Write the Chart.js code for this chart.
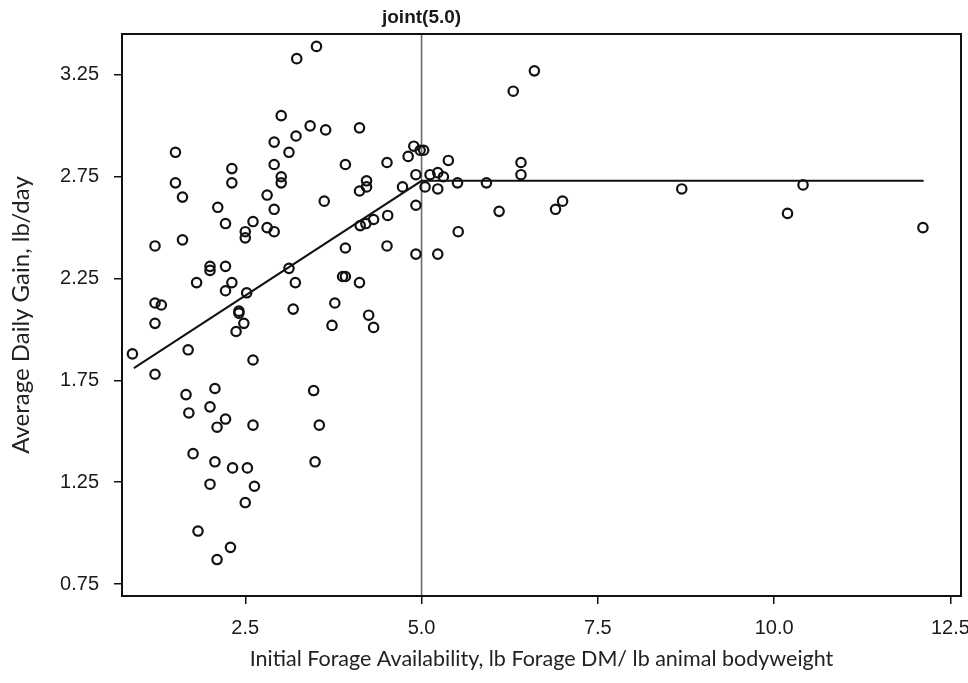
<!DOCTYPE html>
<html><head><meta charset="utf-8">
<script src="https://cdn.jsdelivr.net/npm/chart.js@4.4.0/dist/chart.umd.min.js"></script>
<style>html,body{margin:0;padding:0;background:#fff;} #wrap{width:968px;height:683px;}</style>
</head><body><div id="wrap"><canvas id="c" width="968" height="683"></canvas></div>
<script>
const FORAGE = [3.23,3.51,1.51,3.01,3.42,3.64,3.22,4.12,2.91,3.12,1.51,2.31,2.31,2.91,3.01,3.01,3.92,4.51,4.89,4.98,5.03,4.81,5.38,4.92,5.12,5.23,5.31,5.05,5.23,5.51,4.22,4.22,4.12,4.73,1.61,2.81,3.62,2.11,2.91,4.92,5.52,4.52,4.32,4.21,4.13,2.22,2.61,2.81,2.91,2.50,2.50,1.61,1.22,4.51,3.92,4.92,5.23,2.00,2.00,2.22,3.12,3.88,3.92,1.81,2.31,3.21,4.12,2.22,2.52,1.22,1.31,3.77,2.41,2.41,3.18,4.25,1.22,2.48,3.73,4.32,2.37,0.90,1.69,2.61,1.22,1.66,2.07,3.47,1.70,2.00,2.22,2.10,2.61,3.55,1.76,2.07,2.32,2.53,3.49,2.00,2.63,2.50,1.83,2.29,2.10,6.60,6.30,5.92,6.41,6.41,8.69,6.10,7.00,6.90,10.41,10.19,12.11];
const ADG = [3.33,3.39,2.87,3.05,3.00,2.98,2.95,2.99,2.92,2.87,2.72,2.79,2.72,2.81,2.75,2.72,2.81,2.82,2.90,2.88,2.88,2.85,2.83,2.76,2.76,2.77,2.75,2.70,2.69,2.72,2.73,2.70,2.68,2.70,2.65,2.66,2.63,2.60,2.59,2.61,2.48,2.56,2.54,2.52,2.51,2.52,2.53,2.50,2.48,2.48,2.45,2.44,2.41,2.41,2.40,2.37,2.37,2.31,2.29,2.31,2.30,2.26,2.26,2.23,2.23,2.23,2.23,2.19,2.18,2.13,2.12,2.13,2.09,2.08,2.10,2.07,2.03,2.03,2.02,2.01,1.99,1.88,1.90,1.85,1.78,1.68,1.71,1.70,1.59,1.62,1.56,1.52,1.53,1.53,1.39,1.35,1.32,1.32,1.35,1.24,1.23,1.15,1.01,0.93,0.87,3.27,3.17,2.72,2.82,2.76,2.69,2.58,2.63,2.59,2.71,2.57,2.50];
const FIT_X = [0.92, 5.0, 12.12];
const FIT_Y = [1.81, 2.73, 2.73];
const JOINT_X = 5.0;
const JOINT_LABEL = 'joint(5.0)';
const X_TICKS = [2.5, 5.0, 7.5, 10.0, 12.5];
const X_TICK_LABELS = ['2.5', '5.0', '7.5', '10.0', '12.5'];
const Y_TICKS = [0.75, 1.25, 1.75, 2.25, 2.75, 3.25];
const Y_TICK_LABELS = ['0.75', '1.25', '1.75', '2.25', '2.75', '3.25'];
const X_TITLE = 'Initial Forage Availability, lb Forage DM/ lb animal bodyweight';
const Y_TITLE = 'Average Daily Gain, lb/day';

const points = FORAGE.map((x, i) => ({x: x, y: ADG[i]}));
const fit = FIT_X.map((x, i) => ({x: x, y: FIT_Y[i]}));

const framePlugin = {
  id: 'frame',
  beforeDatasetsDraw(chart) {
    const {ctx, chartArea: a, scales: {x}} = chart;
    const px = x.getPixelForValue(JOINT_X);
    ctx.save();
    ctx.strokeStyle = '#6a6a6a';
    ctx.lineWidth = 1.6;
    ctx.beginPath();
    ctx.moveTo(px, a.top);
    ctx.lineTo(px, a.bottom);
    ctx.stroke();
    ctx.fillStyle = '#1a1a1a';
    ctx.font = 'bold 19px "Liberation Sans Narrow", "Liberation Sans", Arial, sans-serif';
    ctx.textAlign = 'center';
    ctx.textBaseline = 'alphabetic';
    ctx.fillText(JOINT_LABEL, px, 23);
    ctx.restore();
  },
  afterDraw(chart) {
    const {ctx, chartArea: a} = chart;
    ctx.save();
    ctx.strokeStyle = '#111';
    ctx.lineWidth = 2;
    ctx.strokeRect(a.left, a.top, a.right - a.left, a.bottom - a.top);
    ctx.restore();
  }
};

new Chart(document.getElementById('c'), {
  type: 'scatter',
  data: {
    datasets: [
      {
        data: points,
        pointStyle: 'circle',
        pointRadius: 4.7,
        pointHoverRadius: 4.7,
        pointBorderWidth: 2.2,
        borderColor: '#111',
        backgroundColor: 'rgba(0,0,0,0)',
        order: 1
      },
      {
        data: fit,
        showLine: true,
        pointRadius: 0,
        borderColor: '#111',
        borderWidth: 2,
        fill: false,
        order: 2
      }
    ]
  },
  options: {
    responsive: false,
    animation: false,
    events: [],
    layout: {padding: {top: 34, right: 7, left: 0, bottom: 0}},
    plugins: {legend: {display: false}, tooltip: {enabled: false}},
    scales: {
      x: {
        type: 'linear',
        min: 0.752,
        max: 12.65,
        afterFit(s) { s.height = 87; s.paddingLeft = 0; s.paddingRight = 0; },
        afterBuildTicks(s) { s.ticks = X_TICKS.map(v => ({value: v})); },
        ticks: {
          autoSkip: false,
          maxRotation: 0,
          padding: 12,
          color: '#1a1a1a',
          font: {family: '"Liberation Sans", Arial, sans-serif', size: 20},
          callback(v) { const i = X_TICKS.indexOf(v); return i >= 0 ? X_TICK_LABELS[i] : ''; }
        },
        grid: {display: true, drawOnChartArea: false, drawTicks: true, tickLength: 8, color: '#111', lineWidth: 1.5},
        border: {display: true, color: '#111', width: 2},
        title: {
          display: true,
          text: X_TITLE,
          color: '#222',
          font: {family: 'Lato, sans-serif', size: 21.5},
          padding: {top: 0, bottom: 11}
        }
      },
      y: {
        type: 'linear',
        min: 0.691,
        max: 3.451,
        afterFit(s) { s.width = 122; s.paddingTop = 0; s.paddingBottom = 0; },
        afterBuildTicks(s) { s.ticks = Y_TICKS.map(v => ({value: v})); },
        ticks: {
          autoSkip: false,
          padding: 15,
          color: '#1a1a1a',
          font: {family: '"Liberation Sans", Arial, sans-serif', size: 20},
          callback(v) { const i = Y_TICKS.indexOf(v); return i >= 0 ? Y_TICK_LABELS[i] : ''; }
        },
        grid: {display: true, drawOnChartArea: false, drawTicks: true, tickLength: 8, color: '#111', lineWidth: 1.5},
        border: {display: true, color: '#111', width: 2},
        title: {
          display: true,
          text: Y_TITLE,
          color: '#222',
          font: {family: 'Lato, sans-serif', size: 24},
          padding: {top: 7, bottom: 0}
        }
      }
    }
  },
  plugins: [framePlugin]
});
</script>
</body></html>
